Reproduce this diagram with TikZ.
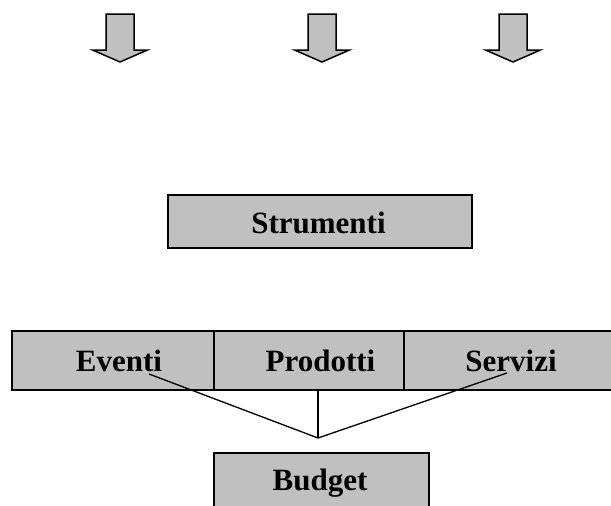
\documentclass[tikz,border=0pt]{standalone}
\usepackage{fontspec}
\setmainfont{Liberation Serif}
\begin{document}
\begin{tikzpicture}[x=1pt,y=-1pt,
  box/.style={draw=black,fill=boxgray,line width=1.5pt,rectangle,inner sep=0pt,anchor=north west},
  lbl/.style={font=\fontsize{31}{37}\selectfont\bfseries,anchor=base,inner sep=0pt},
  conn/.style={draw=black,line width=1.3pt},
  downarrow/.style={draw=black,fill=boxgray,line width=1.5pt,line join=miter}]
\definecolor{boxgray}{HTML}{C0C0C0}
\useasboundingbox (0,0) rectangle (611,506);
\clip (0,0) rectangle (611,506);
% arrows
\foreach \cx/\nm in {120/a1,322/a2,513/a3}{
  \draw[downarrow] (\cx-14,14) -- (\cx+14,14) -- (\cx+14,50) -- (\cx+27.5,50)
     -- (\cx,62) -- (\cx-27.5,50) -- (\cx-14,50) -- cycle;
}
% Strumenti
\node[box,minimum width=304pt,minimum height=53pt] (str) at (167,194) {};
\node[lbl] (strt) at (318.5,233) {Strumenti};
% row
\node[box,minimum width=202pt,minimum height=59pt] (ev) at (11,330) {};
\node[box,minimum width=190pt,minimum height=59pt] (pr) at (213,330) {};
\node[box,minimum width=220pt,minimum height=59pt] (se) at (403,330) {};
\node[lbl] (evt) at (119,371) {Eventi};
\node[lbl] (prt) at (320.5,371) {Prodotti};
\node[lbl] (set) at (511,371) {Servizi};
% Budget
\node[box,minimum width=215pt,minimum height=70pt] (bu) at (213,452) {};
\node[lbl] (but) at (320,490) {Budget};
% connectors
\coordinate (ev1) at (149,374);
\coordinate (se1) at (507,373);
\coordinate (apex) at (318,438);
\draw[conn] (ev1) -- (apex) -- (se1);
\draw[conn] (pr.south -| apex) -- (apex);
\end{tikzpicture}
\end{document}
